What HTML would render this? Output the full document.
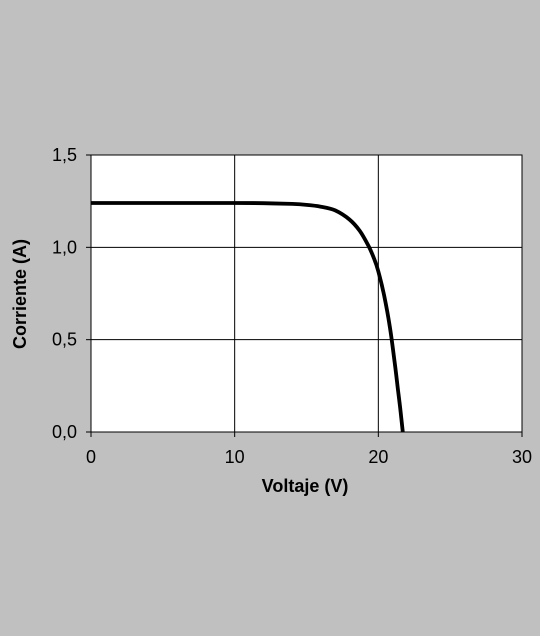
<!DOCTYPE html>
<html><head><meta charset="utf-8"><style>
html,body{margin:0;padding:0;background:#c0c0c0;}
svg{display:block;font-family:"Liberation Sans",Arial,sans-serif;}
</style></head><body>
<svg id="chart" width="540" height="636" viewBox="0 0 540 636">
<rect x="0" y="0" width="540" height="636" fill="#c0c0c0"/>
<rect x="91" y="155" width="431" height="277" fill="#ffffff" stroke="#000" stroke-width="1"/>
<g id="grid"></g>
<g id="ticks"></g>
<path id="curve" fill="none" stroke="#000" stroke-width="3.8" stroke-linejoin="round"/>
<text x="305" y="492" text-anchor="middle" font-size="18" font-weight="bold" fill="#000">Voltaje (V)</text>
<text transform="translate(26,294) rotate(-90)" text-anchor="middle" font-size="18" font-weight="bold" fill="#000">Corriente (A)</text>
</svg>
<script>
const voltage = [0, 5, 10, 12, 14, 15, 16, 17, 18, 18.7, 19.3, 19.7, 20, 20.4, 20.8, 21.1, 21.35, 21.55, 21.7];
const current = [1.24, 1.24, 1.24, 1.239, 1.235, 1.23, 1.22, 1.2, 1.15, 1.09, 1.01, 0.94, 0.87, 0.74, 0.57, 0.40, 0.24, 0.11, 0.0];
const xTicks = [0, 10, 20, 30];
const yTicks = [0, 0.5, 1.0, 1.5];
const yTickLabels = ["0,0", "0,5", "1,0", "1,5"];
const L=91,R=522,T=155,B=432;
const xs=v=>L+(v-0)/(30-0)*(R-L);
const ys=v=>B-(v-0)/(1.5-0)*(B-T);
const NS="http://www.w3.org/2000/svg";
const grid=document.getElementById('grid'), ticks=document.getElementById('ticks');
function mk(tag,attrs,parent){const e=document.createElementNS(NS,tag);for(const k in attrs)e.setAttribute(k,attrs[k]);parent.appendChild(e);return e;}
xTicks.forEach(t=>{
  const g=mk('line',{x1:xs(t),x2:xs(t),y1:T,y2:B,stroke:'#000','stroke-width':1},grid);
  
  
  const tk=mk('line',{x1:xs(t),x2:xs(t),y1:B,y2:B+5,stroke:'#000','stroke-width':1},ticks);
  
  
  const tx=mk('text',{x:xs(t),y:B+31,'text-anchor':'middle','font-size':18,fill:'#000'},ticks);
  tx.textContent=String(t);
  
  
});
yTicks.forEach((t,i)=>{
  const g=mk('line',{x1:L,x2:R,y1:ys(t),y2:ys(t),stroke:'#000','stroke-width':1},grid);
  
  
  const tk=mk('line',{x1:L-5,x2:L,y1:ys(t),y2:ys(t),stroke:'#000','stroke-width':1},ticks);
  
  
  const tx=mk('text',{x:L-14,y:ys(t)+6,'text-anchor':'end','font-size':18,fill:'#000'},ticks);
  tx.textContent=yTickLabels[i];
  
  
});
const pts=voltage.map((v,i)=>[xs(v),ys(current[i])]);
let d='M'+pts[0][0].toFixed(1)+','+pts[0][1].toFixed(1);
for(let i=0;i<pts.length-1;i++){
  const p0=pts[Math.max(0,i-1)],p1=pts[i],p2=pts[i+1],p3=pts[Math.min(pts.length-1,i+2)];
  const c1=[p1[0]+(p2[0]-p0[0])/6,p1[1]+(p2[1]-p0[1])/6];
  const c2=[p2[0]-(p3[0]-p1[0])/6,p2[1]-(p3[1]-p1[1])/6];
  d+='C'+c1.map(n=>n.toFixed(1)).join(',')+' '+c2.map(n=>n.toFixed(1)).join(',')+' '+p2.map(n=>n.toFixed(1)).join(',');
}
document.getElementById('curve').setAttribute('d',d);
</script>
</body></html>
